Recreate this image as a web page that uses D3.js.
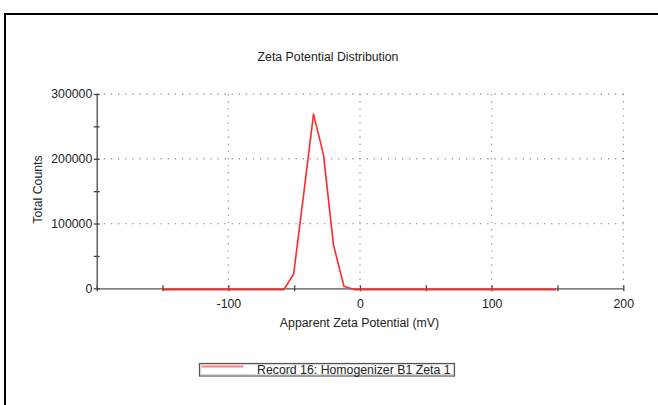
<!DOCTYPE html>
<html>
<head>
<meta charset="utf-8">
<script src="https://cdn.jsdelivr.net/npm/d3@7"></script>
<style>
  html, body { margin: 0; padding: 0; background: #fff; }
  svg text { font-family: "Liberation Sans", Arial, sans-serif; fill: #222; }
</style>
</head>
<body>
<svg id="chart" width="658" height="405"></svg>
<script>
// ---- data ----
const zetaMV   = [-150, -57.8, -50.4, -42.8, -35.3, -27.7, -20.1, -12.2, -4.6, 149];
const counts   = [0, 0, 24100, 147000, 271000, 208000, 68400, 5100, 0, 0];
const xMajorTicks = [-100, 0, 100, 200];
const xMinorTicks = [-150, -50, 50, 150];
const yMajorTicks = [0, 100000, 200000, 300000];
const yMinorTicks = [50000, 150000, 250000];
const chartTitle = "Zeta Potential Distribution";
const xTitle = "Apparent Zeta Potential (mV)";
const yTitle = "Total Counts";
const seriesName = "Record 16: Homogenizer B1 Zeta 1";

const svg = d3.select("#chart");
const FONT = 12.3;
const fmt = d => String(d);   // plain hyphen minus as in the reference

// frame (only top/left edges visible)
svg.append("rect").attr("x", 5).attr("y", 14).attr("width", 700).attr("height", 500)
  .attr("fill", "none").attr("stroke", "#000").attr("stroke-width", 2);

const x = d3.scaleLinear().domain([-200, 200]).range([96.7, 623.3]);
const y = d3.scaleLinear().domain([0, 300000]).range([288.3, 94]);

// grid (dotted)
const grid = svg.append("g").attr("stroke", "#9a9a9a").attr("stroke-width", 1.3)
  .attr("stroke-dasharray", "1.3,5.8");
grid.selectAll("line.h").data(yMajorTicks.filter(d => d > 0)).join("line")
  .attr("x1", x(-200)).attr("x2", x(200)).attr("y1", d => y(d)).attr("y2", d => y(d));
grid.selectAll("line.v").data(xMajorTicks).join("line")
  .attr("x1", d => x(d)).attr("x2", d => x(d)).attr("y1", y(300000)).attr("y2", y(0));

// x axis: labels
const xAxisLabels = d3.axisBottom(x).tickValues(xMajorTicks).tickSize(0).tickPadding(10.6)
  .tickFormat(fmt);
const gx = svg.append("g").attr("transform", `translate(0,${y(0)})`).call(xAxisLabels);
gx.select(".domain").remove();
gx.selectAll("text").attr("font-size", FONT).style("font-family", "'Liberation Sans', Arial, sans-serif").attr("fill", "#222");

// x axis: line + crossing ticks
const xAxisTicks = d3.axisBottom(x).tickValues(xMajorTicks.concat(xMinorTicks, [-200])).tickSizeInner(6).tickSizeOuter(0).tickFormat("");
const gxt = svg.append("g").attr("transform", `translate(0,${y(0) - 3})`).call(xAxisTicks);
gxt.select(".domain").attr("transform", "translate(0,3)").attr("stroke", "#555").attr("stroke-width", 1.3);
gxt.selectAll(".tick line").attr("stroke", "#444").attr("stroke-width", 1.3);

// y axis: labels
const yAxisLabels = d3.axisLeft(y).tickValues(yMajorTicks).tickSize(0).tickPadding(4.4)
  .tickFormat(fmt);
const gy = svg.append("g").attr("transform", `translate(${x(-200)},0)`).call(yAxisLabels);
gy.select(".domain").remove();
gy.selectAll("text").attr("font-size", FONT).style("font-family", "'Liberation Sans', Arial, sans-serif").attr("fill", "#222");

// y axis: line + crossing ticks
const yAxisTicks = d3.axisLeft(y).tickValues(yMajorTicks.concat(yMinorTicks)).tickSizeInner(6).tickSizeOuter(0).tickFormat("");
const gyt = svg.append("g").attr("transform", `translate(${x(-200) + 3},0)`).call(yAxisTicks);
gyt.select(".domain").attr("transform", "translate(-3,0)").attr("stroke", "#555").attr("stroke-width", 1.4);
gyt.selectAll(".tick line").attr("stroke", "#444").attr("stroke-width", 1.3);

// series line (drawn over the axis, slightly below the baseline like the reference)
const line = d3.line().x((d, i) => x(zetaMV[i])).y(d => y(d) + 1.3);
svg.append("path").datum(counts).attr("d", line)
  .attr("fill", "none").attr("stroke", "#ff2a2a").attr("stroke-width", 1.6)
  .attr("stroke-linejoin", "round");

// titles
svg.append("text").attr("x", 328).attr("y", 61).attr("text-anchor", "middle")
  .attr("font-size", FONT).text(chartTitle);
svg.append("text").attr("x", 359.5).attr("y", 326.7).attr("text-anchor", "middle")
  .attr("font-size", FONT).text(xTitle);
svg.append("text").attr("transform", "translate(42.4,189.5) rotate(-90)").attr("text-anchor", "middle")
  .attr("font-size", FONT).text(yTitle);

// legend
const lg = svg.append("g");
lg.append("rect").attr("x", 199.5).attr("y", 363.5).attr("width", 255).attr("height", 12.5)
  .attr("fill", "#fff").attr("stroke", "#555").attr("stroke-width", 1.2);
lg.append("rect").attr("x", 200.8).attr("y", 364.8).attr("width", 252.4).attr("height", 9.9)
  .attr("fill", "none").attr("stroke", "#c8c8c8").attr("stroke-width", 0.8);
lg.append("line").attr("x1", 201.7).attr("x2", 243.3).attr("y1", 366.5).attr("y2", 366.5)
  .attr("stroke", "#ff8080").attr("stroke-width", 2);
lg.append("text").attr("x", 450.5).attr("y", 374.4).attr("text-anchor", "end")
  .attr("font-size", FONT).text(seriesName);
</script>
</body>
</html>
